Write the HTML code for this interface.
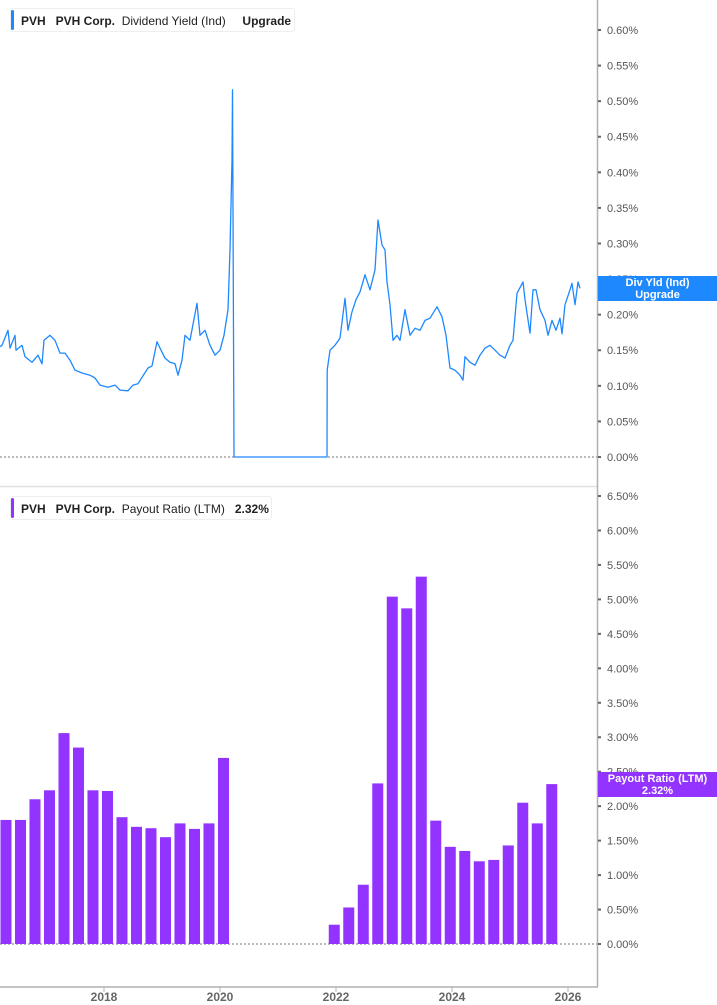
<!DOCTYPE html>
<html><head><meta charset="utf-8">
<style>
body{margin:0;background:#fff;font-family:"Liberation Sans",sans-serif;}
svg{display:block}
</style></head><body>
<svg id="c" width="717" height="1005" xmlns="http://www.w3.org/2000/svg"></svg>
<script>
// ---- data ----
const yieldDates=[2016.207,2016.241,2016.345,2016.379,2016.466,2016.483,2016.586,2016.638,2016.759,2016.862,2016.931,2016.966,2017.069,2017.155,2017.241,2017.328,2017.414,2017.500,2017.621,2017.759,2017.845,2017.931,2018.069,2018.190,2018.276,2018.414,2018.500,2018.586,2018.655,2018.759,2018.828,2018.914,2018.966,2019.052,2019.138,2019.224,2019.276,2019.345,2019.397,2019.483,2019.603,2019.655,2019.741,2019.828,2019.914,2020.000,2020.069,2020.138,2020.172,2020.207,2020.216,2020.224,2020.241,2021.845,2021.848,2021.897,2021.983,2022.069,2022.155,2022.207,2022.276,2022.345,2022.414,2022.500,2022.586,2022.672,2022.724,2022.793,2022.845,2022.879,2022.931,2022.983,2023.052,2023.103,2023.190,2023.276,2023.362,2023.448,2023.534,2023.621,2023.741,2023.828,2023.897,2023.966,2024.052,2024.138,2024.190,2024.224,2024.310,2024.397,2024.483,2024.569,2024.655,2024.741,2024.828,2024.914,2025.000,2025.052,2025.121,2025.224,2025.259,2025.345,2025.397,2025.448,2025.517,2025.603,2025.655,2025.724,2025.793,2025.862,2025.897,2025.948,2026.034,2026.069,2026.121,2026.172,2026.207];
const yieldValues=[0.155,0.157,0.178,0.153,0.171,0.150,0.157,0.141,0.133,0.143,0.131,0.164,0.171,0.164,0.146,0.146,0.136,0.122,0.118,0.115,0.111,0.101,0.098,0.101,0.094,0.093,0.101,0.103,0.112,0.125,0.128,0.162,0.153,0.139,0.133,0.131,0.115,0.136,0.171,0.164,0.216,0.171,0.178,0.157,0.143,0.150,0.171,0.207,0.291,0.417,0.516,0.347,0,0,0.122,0.150,0.157,0.167,0.223,0.178,0.204,0.221,0.232,0.256,0.235,0.263,0.333,0.298,0.291,0.246,0.214,0.164,0.171,0.164,0.207,0.171,0.181,0.178,0.192,0.195,0.211,0.197,0.171,0.125,0.122,0.115,0.108,0.141,0.133,0.129,0.143,0.153,0.157,0.150,0.143,0.139,0.157,0.164,0.230,0.246,0.221,0.174,0.235,0.235,0.207,0.192,0.171,0.192,0.178,0.195,0.173,0.214,0.235,0.244,0.214,0.246,0.237];
const payoutQuarters=[2016.31,2016.56,2016.81,2017.06,2017.31,2017.56,2017.81,2018.06,2018.31,2018.56,2018.81,2019.06,2019.31,2019.56,2019.81,2020.06,2021.97,2022.22,2022.47,2022.72,2022.97,2023.22,2023.47,2023.72,2023.97,2024.22,2024.47,2024.72,2024.97,2025.22,2025.47,2025.72];
const payoutValues=[1.80,1.80,2.10,2.23,3.06,2.85,2.23,2.22,1.84,1.70,1.68,1.55,1.75,1.67,1.75,2.70,0.28,0.53,0.86,2.33,5.04,4.87,5.33,1.79,1.41,1.35,1.20,1.22,1.43,2.05,1.75,2.32];
const yearTicks=[2018,2020,2022,2024,2026];
const yieldTicks=[0,0.05,0.1,0.15,0.2,0.25,0.3,0.35,0.4,0.45,0.5,0.55,0.6];
const payoutTicks=[0,0.5,1,1.5,2,2.5,3,3.5,4,4.5,5,5.5,6,6.5];
// ---- scales ----
const X=y=>104+(y-2018)*58;
const YT=v=>457-v*711.7;
const YB=v=>944-v*68.92;
const NS="http://www.w3.org/2000/svg";
const svg=document.getElementById('c');
function mk(t,a,txt){const e=document.createElementNS(NS,t);for(const k in a)e.setAttribute(k,a[k]);if(txt!=null)e.textContent=txt;svg.appendChild(e);return e;}
let e;
e=mk('line',{x1:0,y1:486.5,x2:597,y2:486.5,stroke:'#e0e0e0','stroke-width':1.5});


e=mk('line',{x1:597.5,y1:0,x2:597.5,y2:987,stroke:'#b0b0b0','stroke-width':1.5});


e=mk('line',{x1:0,y1:987,x2:598,y2:987,stroke:'#b0b0b0','stroke-width':1.5});


e=mk('line',{x1:0,y1:YT(0),x2:597,y2:YT(0),stroke:'#777','stroke-width':1,'stroke-dasharray':'2,2'});


e=mk('line',{x1:0,y1:YB(0),x2:597,y2:YB(0),stroke:'#777','stroke-width':1,'stroke-dasharray':'2,2'});


yieldTicks.forEach(v=>{
  const t=mk('text',{x:607,y:YT(v)+4,'font-size':11,fill:'#555'},v.toFixed(2)+'%');
  
  
  const d=mk('rect',{x:598,y:YT(v)-1,width:3,height:2,fill:'#666'});
  
  
});
payoutTicks.forEach(v=>{
  const t=mk('text',{x:607,y:YB(v)+4,'font-size':11,fill:'#555'},v.toFixed(2)+'%');
  
  
  const d=mk('rect',{x:598,y:YB(v)-1,width:3,height:2,fill:'#666'});
  
  
});
yearTicks.forEach(y=>{
  const l=mk('line',{x1:X(y),y1:987,x2:X(y),y2:992,stroke:'#b0b0b0','stroke-width':1});
  
  
  const t=mk('text',{x:X(y),y:1001,'font-size':12,'font-weight':'bold',fill:'#666','text-anchor':'middle'},String(y));
  
  
});
let d='';
yieldDates.forEach((dt,i)=>{d+=(i?'L':'M')+X(dt).toFixed(1)+','+YT(yieldValues[i]).toFixed(1);});
e=mk('path',{d:d,fill:'none',stroke:'#1e88ff','stroke-width':1.3,'stroke-linejoin':'round'});


payoutQuarters.forEach((q,i)=>{
  const r=mk('rect',{x:X(q)-5.5,y:YB(payoutValues[i]),width:11,height:YB(0)-YB(payoutValues[i]),fill:'#9333ff'});
  
  
});
</script>
<div style="position:absolute;left:10px;top:8px;width:285px;height:24px;border:1px solid #eee;border-radius:3px;background:#fff;font-size:12px;font-weight:bold;color:#222;line-height:24px;box-sizing:border-box">
<span style="position:absolute;left:0;top:1px;bottom:1px;width:3px;background:#1e88ff;border-radius:2px"></span>
<span style="position:absolute;left:10px">PVH &nbsp; PVH Corp. &nbsp;<span style="font-weight:normal">Dividend Yield (Ind)</span> &nbsp;&nbsp;&nbsp; Upgrade</span></div>
<div style="position:absolute;left:10px;top:496px;width:262px;height:24px;border:1px solid #eee;border-radius:3px;background:#fff;font-size:12px;font-weight:bold;color:#222;line-height:24px;box-sizing:border-box">
<span style="position:absolute;left:0;top:1px;bottom:1px;width:3px;background:#9333ff;border-radius:2px"></span>
<span style="position:absolute;left:10px">PVH &nbsp; PVH Corp. &nbsp;<span style="font-weight:normal">Payout Ratio (LTM)</span> &nbsp; 2.32%</span></div>
<div style="position:absolute;left:598px;top:276px;width:119px;height:25px;background:#1e88ff;color:#fff;font-size:11px;font-weight:bold;text-align:center;line-height:12px;padding-top:1px;box-sizing:border-box">Div Yld (Ind)<br>Upgrade</div>
<div style="position:absolute;left:598px;top:772px;width:119px;height:25px;background:#9333ff;color:#fff;font-size:11px;font-weight:bold;text-align:center;line-height:12px;padding-top:1px;box-sizing:border-box">Payout Ratio (LTM)<br>2.32%</div>
</body></html>
